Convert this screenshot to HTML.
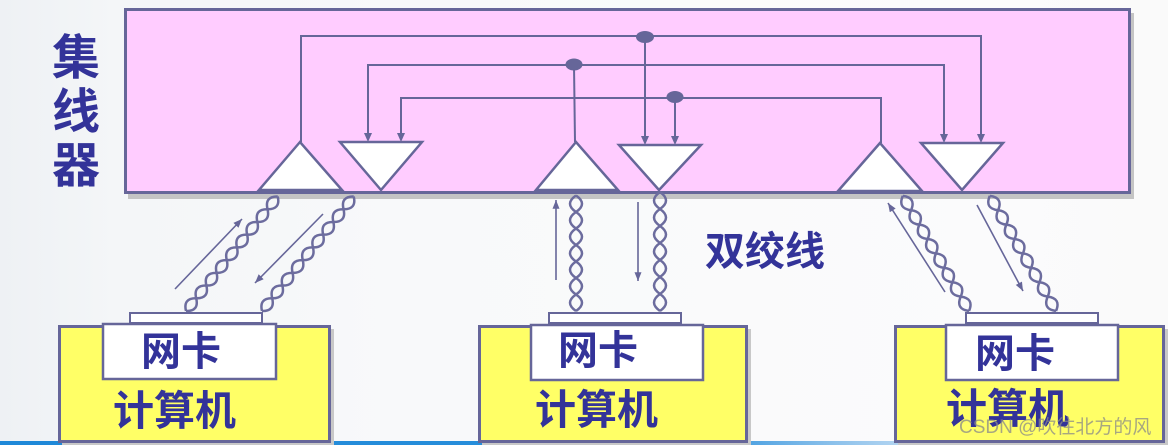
<!DOCTYPE html>
<html>
<head>
<meta charset="utf-8">
<style>
  html,body{margin:0;padding:0;}
  body{width:1168px;height:445px;overflow:hidden;
    background:linear-gradient(to right,#eef1f4 0px,#f4f6f8 120px,#f8f9fa 400px,#fbfbfc 1000px,#fafafa 1168px);}
  svg{position:absolute;left:0;top:0;}
  .cjk{font-family:"Liberation Sans","Noto Sans CJK SC","WenQuanYi Zen Hei",sans-serif;font-weight:700;fill:#333399;}
</style>
</head>
<body>
<svg width="1168" height="445" viewBox="0 0 1168 445" xmlns="http://www.w3.org/2000/svg">
  <defs>
    <linearGradient id="blueline" x1="0" y1="0" x2="1" y2="0">
      <stop offset="0" stop-color="#1e88d8"/>
      <stop offset="0.6" stop-color="#2a90dc"/>
      <stop offset="0.8" stop-color="#9cc8ee" stop-opacity="0.6"/>
      <stop offset="0.9" stop-color="#ffffff" stop-opacity="0"/>
    </linearGradient>
    <marker id="ah" viewBox="0 0 10 8" refX="10" refY="4" markerWidth="10" markerHeight="7" markerUnits="userSpaceOnUse" orient="auto">
      <path d="M0,0 L10,4 L0,8 z" fill="#666699"/>
    </marker>
  </defs>

  <!-- bottom blue line -->
  <rect x="0" y="441" width="1168" height="4" fill="url(#blueline)"/>

  <!-- 集线器 label -->
  <text class="cjk" x="52" y="74" font-size="48">集</text>
  <text class="cjk" x="52" y="128" font-size="48">线</text>
  <text class="cjk" x="52" y="182" font-size="48">器</text>

  <!-- hub shadow + rect -->
  <rect x="128" y="13" width="1006" height="186" fill="#c4c4c4"/>
  <rect x="125.5" y="9.5" width="1004" height="183" fill="#ffccff" stroke="#666699" stroke-width="3"/>

  <!-- hub wiring -->
  <g fill="none" stroke="#666699" stroke-width="2">
    <polyline points="301,142 301,36 981,36 981,134"/>
    <line x1="645" y1="36" x2="645" y2="136"/>
    <polyline points="368,133 368,65 944,65 944,134"/>
    <line x1="574" y1="65" x2="575" y2="142"/>
    <polyline points="401,133 401,98 881,98 881,143"/>
    <line x1="675" y1="97" x2="675" y2="136"/>
  </g>
  <g fill="#666699">
    <polygon points="977,134 985,134 981,143"/>
    <polygon points="641,136 649,136 645,145"/>
    <polygon points="364,133 372,133 368,142"/>
    <polygon points="940,134 948,134 944,143"/>
    <polygon points="397,133 405,133 401,142"/>
    <polygon points="671,136 679,136 675,145"/>
    <ellipse cx="645" cy="37" rx="9" ry="6"/>
    <ellipse cx="574" cy="64.5" rx="8.5" ry="6"/>
    <ellipse cx="675" cy="97" rx="8.5" ry="6"/>
  </g>

  <!-- triangles -->
  <g fill="#ffffff" stroke="#666699" stroke-width="2.5" stroke-linejoin="miter">
    <polygon points="300,142 259,190 342,190"/>
    <polygon points="340,142 422,142 381,190"/>
    <polygon points="576,142 536,190 618,190"/>
    <polygon points="619,145 701,145 659,190"/>
    <polygon points="880,143 838,191 922,191"/>
    <polygon points="921,143 1003,143 962,190"/>
  </g>

  <!-- twisted pairs -->
  <g fill="none" stroke="#6c6c9e" stroke-width="2.5">
    <!-- computer 1 -->
    <g transform="translate(186,311) rotate(-51.3)">
      <path d="M0,0 q8.15,-10.5 16.3,0 t16.3,0 t16.3,0 t16.3,0 t16.3,0 t16.3,0 t16.3,0 t16.3,0 t16.3,0"/>
      <path d="M0,0 q8.15,10.5 16.3,0 t16.3,0 t16.3,0 t16.3,0 t16.3,0 t16.3,0 t16.3,0 t16.3,0 t16.3,0"/>
    </g>
    <g transform="translate(262,311) rotate(-51.3)">
      <path d="M0,0 q8.15,-10.5 16.3,0 t16.3,0 t16.3,0 t16.3,0 t16.3,0 t16.3,0 t16.3,0 t16.3,0 t16.3,0"/>
      <path d="M0,0 q8.15,10.5 16.3,0 t16.3,0 t16.3,0 t16.3,0 t16.3,0 t16.3,0 t16.3,0 t16.3,0 t16.3,0"/>
    </g>
    <!-- computer 2 -->
    <g transform="translate(576,311) rotate(-90)">
      <path d="M0,0 q8.25,-12 16.5,0 t16.5,0 t16.5,0 t16.5,0 t16.5,0 t16.5,0 t16.5,0"/>
      <path d="M0,0 q8.25,12 16.5,0 t16.5,0 t16.5,0 t16.5,0 t16.5,0 t16.5,0 t16.5,0"/>
    </g>
    <g transform="translate(660,311) rotate(-90)">
      <path d="M0,0 q8.5,-12 17,0 t17,0 t17,0 t17,0 t17,0 t17,0 t17,0"/>
      <path d="M0,0 q8.5,12 17,0 t17,0 t17,0 t17,0 t17,0 t17,0 t17,0"/>
    </g>
    <!-- computer 3 -->
    <g transform="translate(969,311) rotate(-119.9)">
      <path d="M0,0 q8.3,-11 16.6,0 t16.6,0 t16.6,0 t16.6,0 t16.6,0 t16.6,0 t16.6,0 t16.6,0"/>
      <path d="M0,0 q8.3,11 16.6,0 t16.6,0 t16.6,0 t16.6,0 t16.6,0 t16.6,0 t16.6,0 t16.6,0"/>
    </g>
    <g transform="translate(1056,311) rotate(-119.9)">
      <path d="M0,0 q8.3,-11 16.6,0 t16.6,0 t16.6,0 t16.6,0 t16.6,0 t16.6,0 t16.6,0 t16.6,0"/>
      <path d="M0,0 q8.3,11 16.6,0 t16.6,0 t16.6,0 t16.6,0 t16.6,0 t16.6,0 t16.6,0 t16.6,0"/>
    </g>
  </g>

  <!-- direction arrows -->
  <g stroke="#666699" stroke-width="1.6" fill="none" marker-end="url(#ah)">
    <line x1="175" y1="289" x2="242" y2="219"/>
    <line x1="323" y1="214" x2="255" y2="283"/>
    <line x1="556" y1="280" x2="556" y2="200"/>
    <line x1="638" y1="202" x2="638" y2="281"/>
    <line x1="945" y1="292" x2="888" y2="203"/>
    <line x1="977" y1="205" x2="1023" y2="291"/>
  </g>

  <!-- 双绞线 -->
  <text class="cjk" x="705" y="265" font-size="40">双绞线</text>

  <!-- computers -->
  <g fill="#c8c8c8">
    <rect x="62" y="329" width="272" height="116"/>
    <rect x="482" y="329" width="269" height="116"/>
    <rect x="898" y="329" width="270" height="116"/>
  </g>
  <g stroke="#666699" stroke-width="3" fill="#ffff66">
    <rect x="59.5" y="326.5" width="270" height="115"/>
    <rect x="479.5" y="326.5" width="267" height="115"/>
    <rect x="895.5" y="326.5" width="268" height="115"/>
  </g>
  <!-- strips -->
  <g stroke="#666699" stroke-width="2" fill="#ffffff">
    <rect x="130" y="313" width="132" height="10"/>
    <rect x="549" y="313" width="132" height="10"/>
    <rect x="966" y="313" width="132" height="10"/>
  </g>
  <!-- cards -->
  <g stroke="#666699" stroke-width="2.5" fill="#ffffff">
    <rect x="103" y="324" width="173" height="55"/>
    <rect x="531" y="325" width="172" height="55"/>
    <rect x="946" y="325" width="172" height="55"/>
  </g>

  <text class="cjk" x="141" y="365" font-size="40">网卡</text>
  <text class="cjk" x="558" y="364" font-size="40">网卡</text>
  <text class="cjk" x="975" y="367" font-size="40">网卡</text>

  <text class="cjk" x="113" y="425" font-size="41">计算机</text>
  <text class="cjk" x="535" y="424" font-size="41">计算机</text>
  <text class="cjk" x="946" y="423" font-size="41">计算机</text>

  <!-- watermark -->
  <text x="959" y="433" font-size="19" font-family="'Liberation Sans','Noto Sans CJK SC',sans-serif" fill="#8a8a8a" fill-opacity="0.75">CSDN @吹往北方的风</text>
</svg>
</body>
</html>
